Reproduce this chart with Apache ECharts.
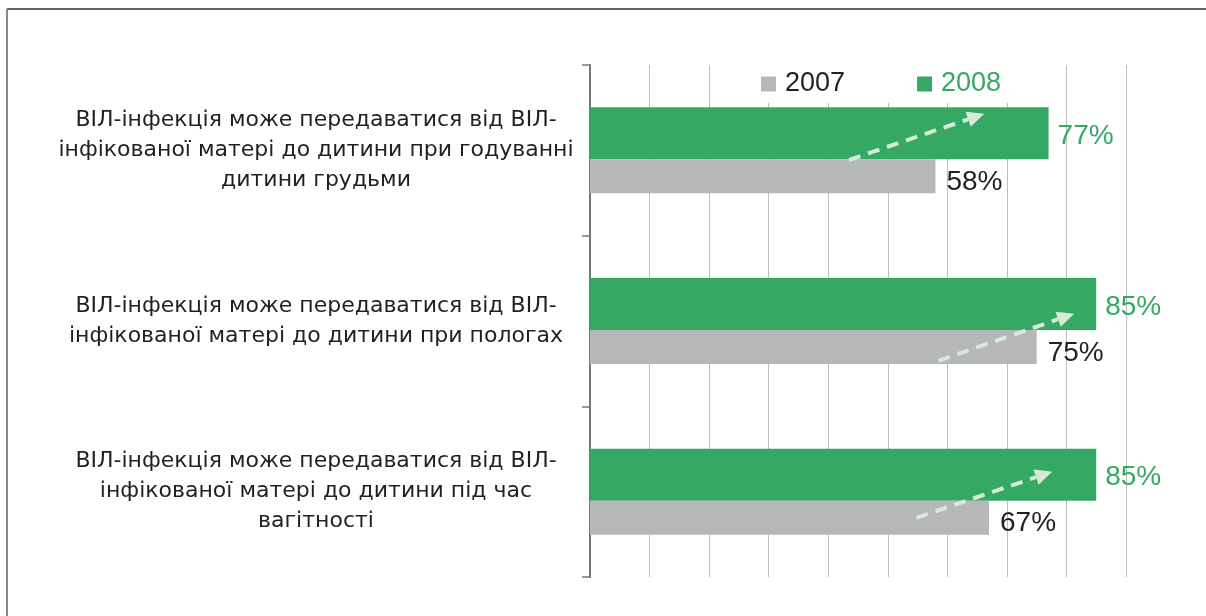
<!DOCTYPE html>
<html>
<head>
<meta charset="utf-8">
<script src="https://cdn.jsdelivr.net/npm/echarts@6/dist/echarts.min.js"></script>
<style>
  html,body{margin:0;padding:0;background:#fff}
  #chart{width:1206px;height:616px}
</style>
</head>
<body>
<div id="chart"></div>
<script>
// categories (top to bottom), as printed with line breaks
var categories = [
  'ВІЛ-інфекція може передаватися від ВІЛ-\nінфікованої матері до дитини при годуванні\nдитини грудьми',
  'ВІЛ-інфекція може передаватися від ВІЛ-\nінфікованої матері до дитини при пологах',
  'ВІЛ-інфекція може передаватися від ВІЛ-\nінфікованої матері до дитини під час\nвагітності'
];
var years = ['2007', '2008'];
var values2007 = [58, 75, 67];
var values2008 = [77, 85, 85];

// decorative dashed arrows: start / end value and shift inside the band (fraction of band)
var arrowFrom = [43.5, 58.5, 54.8];
var arrowTo = [66.2, 81.3, 77.6];
var arrowFromShift = [0.056, 0.233, 0.153];
var arrowToShift = [-0.214, -0.043, -0.117];

var GREEN = '#35a863', GRAY = '#b6b7b9', INK = '#231f20';
var FONT = '"Liberation Sans", Arial, Helvetica, sans-serif';
var LABEL_FONT = '"DejaVu Sans", "Liberation Sans", sans-serif';

var arrowData = categories.map(function(c, i){
  return [arrowFrom[i], arrowTo[i], i, arrowFromShift[i], arrowToShift[i]];
});

function renderArrow(params, api){
  var band = api.size([0, 1])[1];
  var p0 = api.coord([api.value(0), api.value(2)]);
  var p1 = api.coord([api.value(1), api.value(2)]);
  var x0 = p0[0], y0 = p0[1] + band * api.value(3);
  var x1 = p1[0], y1 = p1[1] + band * api.value(4);
  var dx = x1 - x0, dy = y1 - y0, len = Math.sqrt(dx*dx + dy*dy);
  var ux = dx/len, uy = dy/len, head = 17, half = 8;
  var bx = x1 - ux*head, by = y1 - uy*head;
  return {
    type: 'group',
    children: [
      {type: 'line', shape: {x1: x0, y1: y0, x2: bx, y2: by},
        style: {stroke: '#d6ebd7', lineWidth: 4, lineDash: [12, 8]}},
      {type: 'polygon', shape: {points: [[x1, y1], [bx - uy*half, by + ux*half], [bx + uy*half, by - ux*half]]},
        style: {fill: '#d6ebd7'}}
    ]
  };
}

var chart = echarts.init(document.getElementById('chart'));
chart.setOption({
  animation: false,
  textStyle: {fontFamily: FONT},
  grid: {left: 590, right: 80, top: 65, bottom: 39, containLabel: false},
  graphic: [
    {type: 'line', shape: {x1: 7, y1: 9, x2: 1206, y2: 9}, style: {stroke: '#333', lineWidth: 1.5}},
    {type: 'line', shape: {x1: 7, y1: 9, x2: 7, y2: 616}, style: {stroke: '#888', lineWidth: 2}}
  ],
  legend: {
    left: 753, top: 65,
    padding: [4, 8, 4, 8],
    backgroundColor: '#fff',
    itemWidth: 15, itemHeight: 15, itemGap: 72,
    icon: 'rect',
    textStyle: {fontSize: 27, lineHeight: 30, fontFamily: FONT, padding: [0, 0, 0, 4]},
    data: [
      {name: years[0], textStyle: {color: INK}},
      {name: years[1], textStyle: {color: GREEN}}
    ]
  },
  xAxis: {
    type: 'value', min: 0, max: 90, interval: 10,
    axisLine: {show: false}, axisTick: {show: false}, axisLabel: {show: false},
    splitLine: {show: true, lineStyle: {color: '#bdbdbd', width: 1}}
  },
  yAxis: {
    type: 'category', inverse: true, data: categories,
    axisLine: {show: true, lineStyle: {color: '#777', width: 2}},
    axisTick: {show: true, length: 8, lineStyle: {color: '#777', width: 1.5}},
    axisLabel: {
      color: INK, fontSize: 22, lineHeight: 30, fontFamily: LABEL_FONT,
      align: 'center', margin: 274
    }
  },
  series: [
    {
      name: years[1], type: 'bar', data: values2008, barWidth: 52, barGap: '0%',
      itemStyle: {color: GREEN},
      label: {show: true, position: 'right', distance: 9, offset: [0, 3],
        formatter: '{c}%', color: GREEN, fontSize: 28, fontFamily: FONT}
    },
    {
      name: years[0], type: 'bar', data: values2007, barWidth: 34, barGap: '0%',
      itemStyle: {color: GRAY},
      label: {show: true, position: 'right', distance: 11, offset: [0, 6],
        formatter: '{c}%', color: INK, fontSize: 28, fontFamily: FONT}
    },
    {
      type: 'custom', name: 'arrows', z: 5, silent: true,
      renderItem: renderArrow,
      encode: {x: [0, 1], y: 2},
      data: arrowData
    }
  ]
});
</script>
</body>
</html>
